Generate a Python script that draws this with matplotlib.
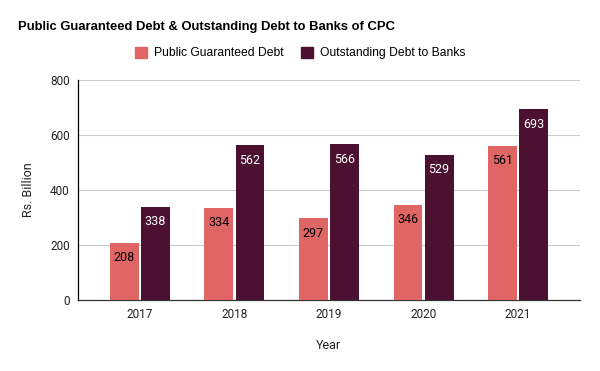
import matplotlib
matplotlib.use("Agg")
import matplotlib.pyplot as plt

years = ["2017", "2018", "2019", "2020", "2021"]
public_guaranteed = [208, 334, 297, 346, 561]
outstanding_banks = [338, 562, 566, 529, 693]
y_ticks = [0, 200, 400, 600, 800]

c_public = "#e06666"
c_banks = "#4c1130"

plt.rcParams["font.family"] = ["Roboto", "DejaVu Sans"]

fig = plt.figure(figsize=(6.0, 3.71), dpi=100)
ax = fig.add_axes([78 / 600, 1 - 300 / 371, (580 - 78) / 600, (300 - 80) / 371])

x = list(range(len(years)))
w = 0.305
gap = 0.012
xp = [i - w / 2 - gap for i in x]
xb = [i + w / 2 + gap for i in x]
b1 = ax.bar(xp, public_guaranteed, width=w, color=c_public, zorder=3)
b2 = ax.bar(xb, outstanding_banks, width=w, color=c_banks, zorder=3)

for rects, vals, col in ((b1, public_guaranteed, "#000000"), (b2, outstanding_banks, "#ffffff")):
    for r, v in zip(rects, vals):
        ax.annotate(str(v), (r.get_x() + r.get_width() / 2, v), xytext=(0, -6),
                    textcoords="offset points", ha="center", va="top",
                    fontsize=9, color=col, zorder=4)

ax.set_ylim(0, 800)
ax.set_xlim(-0.655, 4.655)
ax.set_yticks(y_ticks)
ax.set_yticklabels([str(t) for t in y_ticks], fontsize=8.5, color="#222222")
ax.set_xticks(x)
ax.set_xticklabels(years, fontsize=8.5, color="#222222")
ax.tick_params(axis="both", length=0, pad=6)
ax.grid(axis="y", color="#cccccc", linewidth=0.8, zorder=0)
for s in ("top", "right"):
    ax.spines[s].set_visible(False)
ax.spines["left"].set_color("#000000")
ax.spines["left"].set_linewidth(0.9)
ax.spines["bottom"].set_color("#333333")
ax.spines["bottom"].set_linewidth(0.9)

ax.set_ylabel("Rs. Billion", fontsize=9, color="#222222", labelpad=11)
ax.set_xlabel("Year", fontsize=9, color="#222222", labelpad=13)

fig.text(18 / 600, 1 - 27 / 371, "Public Guaranteed Debt & Outstanding Debt to Banks of CPC",
         fontsize=9.4, fontweight="bold", color="#000000", va="center", ha="left",
         family=["Liberation Sans", "DejaVu Sans"])

handles = [plt.Rectangle((0, 0), 1, 1, color=c_public), plt.Rectangle((0, 0), 1, 1, color=c_banks)]
fig.legend(handles, ["Public Guaranteed Debt", "Outstanding Debt to Banks"],
           loc="center", bbox_to_anchor=(0.5, 1 - 53 / 371), ncol=2, frameon=False,
           prop={"family": ["Liberation Sans", "DejaVu Sans"], "size": 8.7},
           handlelength=1.0, handleheight=1.0, columnspacing=1.4,
           handletextpad=0.6)

fig.savefig("out.png", dpi=100)
